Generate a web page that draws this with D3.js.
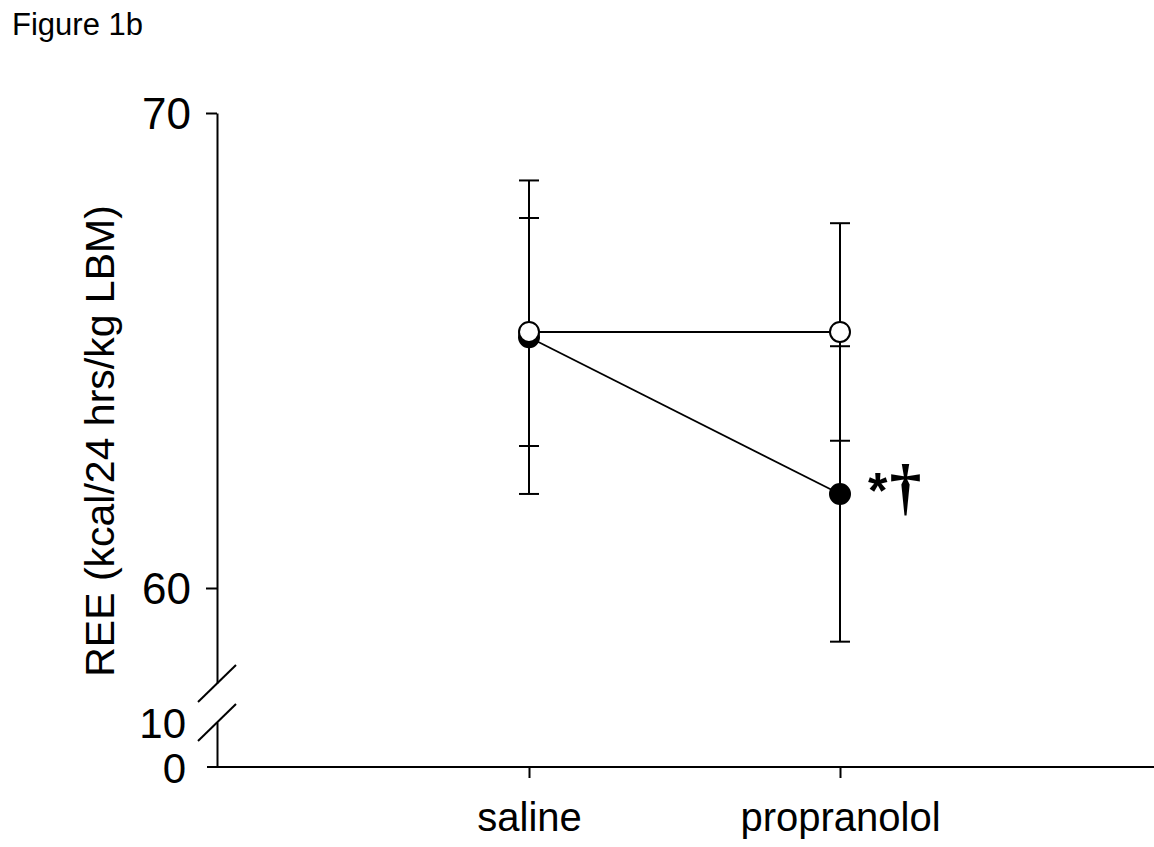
<!DOCTYPE html>
<html>
<head>
<meta charset="utf-8">
<script src="https://cdn.jsdelivr.net/npm/d3@7"></script>
<style>
  body { margin: 0; background: #fff; }
  svg { display: block; font-family: "Liberation Sans", Arial, sans-serif; }
</style>
</head>
<body>
<svg width="1154" height="847"></svg>
<script>
const groups = ["saline", "propranolol"];
const openMean = [65.39, 65.39];
const openSE = [2.40, 2.29];
const filledMean = [65.28, 61.98];
const filledSE = [3.30, 3.11];
const upperTicks = [60, 70];
const lowerTicks = [0, 10];

const svg = d3.select("svg");

const yUp = d3.scaleLinear().domain([58, 70]).range([683, 113]);
const yLow = d3.scaleLinear().domain([0, 10]).range([767, 722]);
const x = d3.scalePoint().domain(groups).range([529, 840]);
const axisX = 217;

svg.append("text")
    .attr("x", 12).attr("y", 35)
    .style("font-size", "31px")
    .text("Figure 1b");

// upper y axis
svg.append("g")
    .attr("transform", `translate(${axisX},0)`)
    .call(d3.axisLeft(yUp).tickValues(upperTicks).tickSize(11).tickSizeOuter(0).tickPadding(15))
    .call(g => g.selectAll("text").style("font-size", "44px").attr("dy", "0.36em"))
    .call(g => g.selectAll("path, line").attr("stroke", "#000").attr("stroke-width", 2));

// lower y axis
svg.append("g")
    .attr("transform", `translate(${axisX},0)`)
    .call(d3.axisLeft(yLow).tickValues(lowerTicks).tickSize(0).tickSizeOuter(0).tickPadding(31))
    .call(g => g.selectAll("text").style("font-size", "42px").attr("dy", "0.36em"))
    .call(g => g.selectAll("path, line").attr("stroke", "#000").attr("stroke-width", 2));

// break marks
[yUp(58), yLow(10)].forEach(yb => {
    svg.append("line")
        .attr("x1", axisX - 19).attr("y1", yb + 19)
        .attr("x2", axisX + 19).attr("y2", yb - 18)
        .attr("stroke", "#000").attr("stroke-width", 2);
});

// x axis
svg.append("line")
    .attr("x1", axisX - 10).attr("x2", 1154)
    .attr("y1", yLow(0)).attr("y2", yLow(0))
    .attr("stroke", "#000").attr("stroke-width", 2);
svg.append("g")
    .attr("transform", `translate(0,${yLow(0)})`)
    .call(d3.axisBottom(x).tickSize(11).tickPadding(25))
    .call(g => g.select(".domain").remove())
    .call(g => g.selectAll("text").style("font-size", "40px").attr("dy", "0.71em"))
    .call(g => g.selectAll("line").attr("stroke", "#000").attr("stroke-width", 2));

const series = [
    {mean: filledMean, se: filledSE, fill: "#000"},
    {mean: openMean, se: openSE, fill: "#fff"}
];

// error bars
series.forEach(s => {
    const eb = svg.append("g").attr("stroke", "#000").attr("stroke-width", 2);
    groups.forEach((gname, i) => {
        const cx = x(gname);
        const hi = yUp(s.mean[i] + s.se[i]);
        const lo = yUp(s.mean[i] - s.se[i]);
        eb.append("line").attr("x1", cx).attr("x2", cx).attr("y1", hi).attr("y2", lo);
        eb.append("line").attr("x1", cx - 10).attr("x2", cx + 10).attr("y1", hi).attr("y2", hi);
        eb.append("line").attr("x1", cx - 10).attr("x2", cx + 10).attr("y1", lo).attr("y2", lo);
    });
});

// lines
const line = d3.line().x(d => x(d[0])).y(d => yUp(d[1]));
series.forEach(s => {
    svg.append("path")
        .datum(groups.map((gname, i) => [gname, s.mean[i]]))
        .attr("d", line)
        .attr("fill", "none")
        .attr("stroke", "#000")
        .attr("stroke-width", 1.8);
});

// markers
series.forEach(s => {
    svg.append("g").selectAll("circle")
        .data(groups.map((gname, i) => [gname, s.mean[i]]))
        .join("circle")
        .attr("cx", d => x(d[0]))
        .attr("cy", d => yUp(d[1]))
        .attr("r", 10)
        .attr("fill", s.fill)
        .attr("stroke", "#000")
        .attr("stroke-width", 2);
});

// significance marks
const sig = svg.append("text")
    .attr("x", x("propranolol") + 28)
    .attr("y", yUp(filledMean[1]) + 14);
sig.append("tspan")
    .style("font-size", "50px")
    .style("font-weight", "bold")
    .text("*");
sig.append("tspan")
    .attr("dx", 2)
    .style("font-family", "'Liberation Serif', serif")
    .style("font-size", "64px")
    .style("font-weight", "bold")
    .text("†");

// y label
svg.append("text")
    .attr("transform", "translate(114,441) rotate(-90)")
    .attr("text-anchor", "middle")
    .style("font-size", "41px")
    .text("REE (kcal/24 hrs/kg LBM)");
</script>
</body>
</html>
